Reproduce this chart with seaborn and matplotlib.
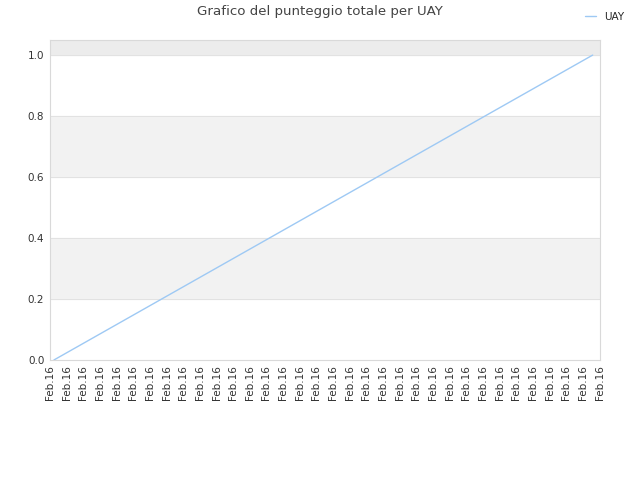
import pandas as pd
import matplotlib.pyplot as plt
import seaborn as sns
import numpy as np

# Score data for UAY (total score over time)
points = [0, 1]
scores = [0.0, 1.0]
tick_label = "Feb.16"
n_ticks = 34
y_ticks = [0.0, 0.2, 0.4, 0.6, 0.8, 1.0]

sns.set_style("white")
plt.rcParams["font.family"] = ["DejaVu Sans"]

df = pd.DataFrame({"x": points, "score": scores, "team": "UAY"})

fig = plt.figure(figsize=(6.4, 4.8), dpi=100)
ax = fig.add_axes([0.078, 0.25, 0.859, 0.667])

# alternating background bands
ax.axhspan(0.2, 0.4, color="#f2f2f2", zorder=0)
ax.axhspan(0.6, 0.8, color="#f2f2f2", zorder=0)
ax.axhspan(1.0, 1.05, color="#ececec", zorder=0)
for y in y_ticks:
    ax.axhline(y, color="#e2e2e2", lw=0.7, zorder=0.5)

sns.lineplot(data=df, x="x", y="score", hue="team", palette=["#9ec9f4"],
             linewidth=1.0, ax=ax, legend=False)

ax.set_xlim(-0.0074, 1.013)
ax.set_ylim(0, 1.05)
ax.set_xticks(np.linspace(-0.0074, 1.013, n_ticks))
ax.set_xticklabels([tick_label] * n_ticks, rotation=90, fontsize=7.5, color="#333333")
ax.set_yticks(y_ticks)
ax.set_yticklabels([f"{v:.1f}" for v in y_ticks], fontsize=7.5, color="#333333")
ax.tick_params(length=0, pad=4)
ax.set_xlabel("")
ax.set_ylabel("")
for s in ax.spines.values():
    s.set_color("#d9d9d9")
    s.set_linewidth(0.8)

fig.suptitle("Grafico del punteggio totale per UAY", x=0.5, y=0.99,
             fontsize=9.6, color="#444444")
fig.legend(handles=[plt.Line2D([], [], color="#9ec9f4", lw=1.0)], labels=["UAY"],
           loc="upper right", bbox_to_anchor=(0.99, 0.995), frameon=False,
           fontsize=7.5, handlelength=1.0, handletextpad=0.8)

fig.savefig("out.png", dpi=100)
